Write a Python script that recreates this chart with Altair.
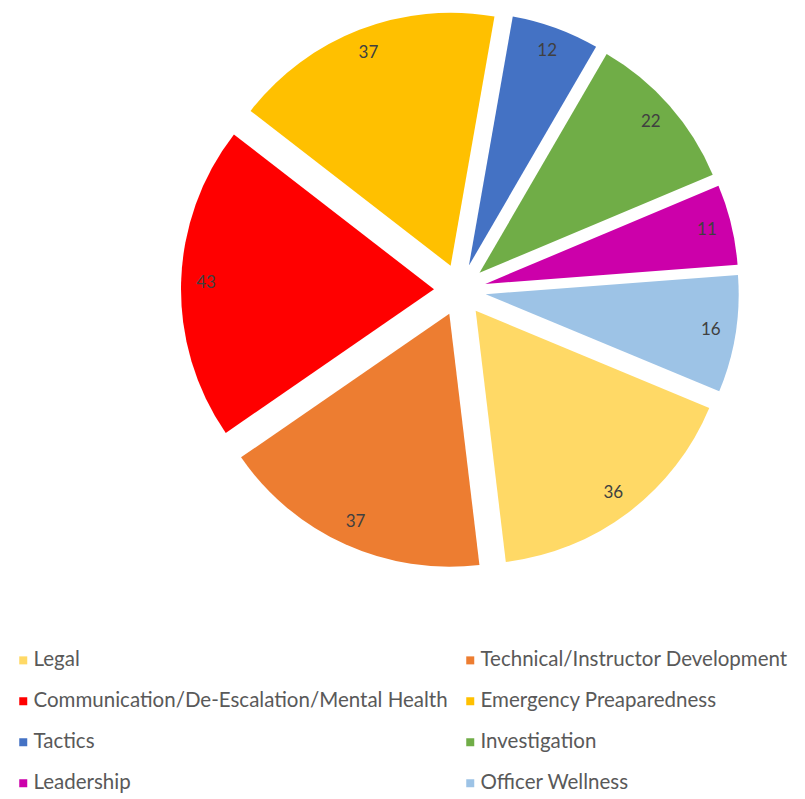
import altair as alt
import pandas as pd

categories = [
    "Legal",
    "Technical/Instructor Development",
    "Communication/De-Escalation/Mental Health",
    "Emergency Preaparedness",
    "Tactics",
    "Investigation",
    "Leadership",
    "Officer Wellness",
]
values = [36, 37, 43, 37, 12, 22, 11, 16]
colors = ["#FFD966", "#ED7D31", "#FF0000", "#FFC000", "#4472C4", "#70AD47", "#CC00AA", "#9DC3E6"]

# legend entries fill column by column, so list them so that rows read in series order
legend_order = categories[0::2] + categories[1::2]

df = pd.DataFrame({"category": categories, "value": values, "order": list(range(len(categories)))})

START = 112.6 * 3.141592653589793 / 180  # rotation of first slice (radians)
CX, CY = 452, 282   # pie centre (plot px)
EXPLODE = 26
R = 253
LABEL_R = 228

base = alt.Chart(df).transform_window(
    cum="sum(value)", sort=[alt.SortField("order")], frame=[None, 0]
).transform_joinaggregate(
    total="sum(value)"
).transform_calculate(
    t0=f"{START} + 2*PI*(datum.cum - datum.value)/datum.total",
    t1=f"{START} + 2*PI*datum.cum/datum.total",
).transform_calculate(
    mid="(datum.t0 + datum.t1)/2"
).transform_calculate(
    sx=f"{CX} + {EXPLODE}*sin(datum.mid)",
    sy=f"{CY} - {EXPLODE}*cos(datum.mid)",
).transform_calculate(
    lx=f"datum.sx + {LABEL_R}*sin(datum.mid)",
    ly=f"datum.sy - {LABEL_R}*cos(datum.mid)",
)

arcs = base.mark_arc(radius=R, stroke=None).encode(
    x=alt.X("sx:Q", scale=None),
    y=alt.Y("sy:Q", scale=None),
    theta=alt.Theta("t0:Q", scale=None),
    theta2="t1:Q",
    color=alt.Color(
        "category:N",
        scale=alt.Scale(domain=categories, range=colors),
        legend=alt.Legend(
            title=None,
            orient="none",
            legendX=5,
            legendY=642,
            columns=2,
            values=legend_order,
            symbolType="square",
            symbolSize=64,
            symbolStrokeWidth=0,
            labelFont="Lato",
            labelFontSize=20.5,
            labelColor="#595959",
            labelLimit=1000,
            rowPadding=20,
            columnPadding=12,
            labelOffset=0,
            padding=0,
        ),
    ),
)

labels = base.mark_text(font="Lato", fontSize=17, color="#404040").encode(
    x=alt.X("lx:Q", scale=None),
    y=alt.Y("ly:Q", scale=None),
    text="value:Q",
)

chart = (arcs + labels).properties(width=789, height=630, padding=0).configure_view(stroke=None)

chart.save("out.html", embed_options={"renderer": "svg", "actions": False})
